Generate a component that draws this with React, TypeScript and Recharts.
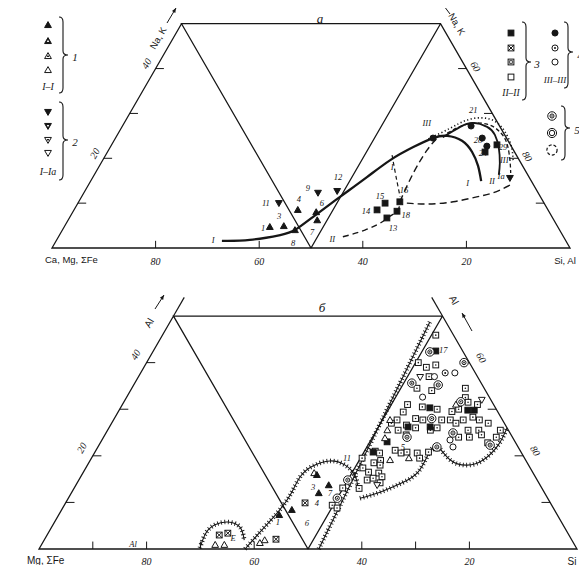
import React from 'react'
import { ScatterChart, Scatter, XAxis, YAxis, ReferenceLine } from 'recharts'

const INK = '#161616'
const SERIF = '"Liberation Serif", "DejaVu Serif", serif'
const SANS = '"Liberation Sans", "DejaVu Sans", sans-serif'
const H = Math.sqrt(3) / 2

// ternary -> plot coords. a = share of the right corner (Si,Al / Si), b = share of the top (Na,K / Al)
const pt = (a: number, b: number) => ({ x: a + b / 2, y: b * H })
const pts = (arr: number[][]) => arr.map(([a, b]) => pt(a, b))
const lbl = (arr: [string, number, number][]) => arr.map(([t, a, b]) => ({ ...pt(a, b), t }))

// ---------- diagram a : Si,Al % / Na,K % ----------
const topTriUp = [[39.7, 4.7], [42.3, 4.9], [43.2, 8.5], [47, 8], [48.1, 6.2], [44.9, 4.0]]
const topTriDown = [[38.8, 10], [45.2, 12.3], [48.7, 12.7], [80.6, 15.6]]
const topSquares = [[61.3, 6.7], [58.5, 8.5], [59.3, 10], [62, 10.3], [62.5, 8.2], [72.9, 21.4], [74.4, 23]]
const topCircles = [[67.3, 27.2], [70.8, 24.5], [72.6, 22.7], [61.3, 24.5]]

const topCurveI = [[32.0, 1.6], [37.3, 1.8], [42.6, 2.9], [44.9, 4.0], [46.9, 6.9], [49.9, 11.4], [52.9, 15.8], [55.5, 19.6], [58.5, 22.5], [61.3, 24.5], [63.8, 25.0], [67.2, 23.9], [70.4, 21.4], [73.1, 18.3], [75.4, 14.9]]
const topCurveII = [[63.1, 24.7], [65.3, 27.0], [67.3, 27.9], [70.5, 27.0], [72.9, 25.2], [75.1, 22.3], [77.0, 18.9], [78.1, 16.3]]
const topCurveIII = [[60.5, 24.3], [63.5, 26.7], [65.8, 28.5], [68.7, 29.0], [72.0, 27.9], [75.2, 25.2], [77.6, 22.3], [79.2, 19.6]]
const topCurveIa = [[63.5, 25.6], [66.3, 27.6], [70.2, 27.6], [73.5, 25.9], [76.1, 23.4], [78.6, 19.6], [80.2, 16.7]]
const topDashIIlow = [[54.9, 2.5], [58.4, 4.0], [60.8, 5.8], [61.3, 6.7], [62.5, 8.2], [62.0, 10.3]]
const topDashIIup = [[62.0, 10.3], [61.4, 16.7], [61.5, 21.8], [62.1, 24.5]]
const topDashI = [[55.3, 20.7], [58.2, 16.3], [61.5, 11.4]]
const topReturn = [[81.4, 14.0], [79.0, 12.3], [76.3, 11.4], [72.3, 10.3], [67.5, 9.8], [63.5, 10.0]]

const topLabels: [string, number, number][] = [
  ['I', 30.2, 1.8], ['1', 38.5, 4.5], ['3', 40.3, 7.1], ['11', 36.3, 10.0], ['4', 42.2, 10.9],
  ['9', 42.7, 13.4], ['6', 47.1, 10.0], ['7', 48.4, 3.6], ['8', 46.0, 1.1], ['12', 47.3, 15.8],
  ['II', 53.1, 2.0], ['13', 63.6, 4.5], ['14', 56.5, 8.2], ['15', 57.5, 11.6], ['16', 61.5, 12.9],
  ['18', 64.6, 7.4], ['I', 56.6, 18.1], ['III', 58.4, 27.9], ['21', 65.9, 30.8], ['28', 70.2, 24.1],
  ['24', 72.6, 21.2], ['29', 75.8, 22.5], ['I', 73.0, 14.5], ['II', 77.5, 14.9], ['III', 77.5, 19.6], ['Ia', 78.7, 16.0],
]

const topLeftTicks = [10, 20, 30, 40]
const topLeftLabels = [20, 40]
const topBaseTicks = [20, 40, 60, 80]
const topBaseLabels = [80, 60, 40, 20] // Ca,Mg,ΣFe %
const topRightTicks = [60, 70, 80, 90]
const topRightLabels = [60, 80]

// ---------- diagram б : Si % / Al % ----------
const botSquares = [
  [50.8, 45.9], [50.5, 40], [52.5, 39], [54, 39.5], [54, 37], [53, 34.5], [56, 34], [62, 34.5], [63, 32.5],
  [64, 31.5], [62, 29.5], [63, 30], [66, 31], [53, 31], [56, 30.5], [59, 30], [56, 28], [57.5, 27.7],
  [61, 27.7], [53, 29.4], [52.7, 27.7], [54, 25.5], [57, 26], [60, 25.5], [61, 26], [56, 24.5], [62.6, 27.7],
  [64, 27], [65, 27.7], [66.5, 28.3], [68, 27.7], [70, 27], [69, 25.5], [67, 25.5], [66, 24], [68, 24],
  [70, 24.5], [72, 22.8], [73, 24], [73, 25.5], [52, 21], [53, 20.6], [54, 19], [60, 20.6], [61, 19.5],
  [62, 20.8], [63, 21.7], [52, 27], [55, 26.6], [55.6, 21.2], [57, 20.6], [58, 20.8], [53, 18.5], [54.4, 18],
  [51.5, 17.4], [53, 16.5], [55, 16.3], [56, 15.5], [53.6, 14.8], [54.5, 15.2], [56.3, 14.2], [50.3, 19.5],
  [49.9, 13.1], [53, 13], [49.8, 9.4], [51, 8.8],
]
const botSquaresX = [[43, 2.1], [32, 3], [33.4, 3.4], [44.5, 9.9]]
const botSquaresF = [[52.5, 42.5], [64.8, 29.8], [57.5, 30.3], [55.5, 26.2], [59.6, 26.2], [53.2, 23], [51.7, 20.8], [66, 29.8]]
const botConc = [[51.5, 42.3], [59, 40], [51.5, 35.6], [56.6, 35.2], [62.6, 31.6], [56.4, 24], [64.5, 24.9], [72.7, 22.3], [63, 21.9], [50, 14.8], [50, 10.9], [59, 28]]
const botCircO = [[55, 32.6], [58.4, 37.8], [55, 37], [64.7, 23.4], [66, 21.9]]
const botCircD = [[56.6, 37.8]]
const botTriO = [[62, 31], [51.4, 27.7], [52, 25.5], [52.4, 23.8], [59, 19.5], [55.7, 19.1], [41, 1.9], [40.4, 1.3], [32.3, 0.9], [34, 0.9], [43, 16.3]]
const botTriF = [[43.7, 15.9], [47, 13.7], [46, 12], [42.8, 8.4], [41, 7.3]]
const botTriDown = [[52.4, 36.9], [66.3, 32], [56, 13.7]]

const botHatchA = [[52, 0], [48.3, 48.7]]
const botHump = [[38.3, 0], [39.4, 4.1], [40.4, 7.7], [40.9, 11.6], [40.8, 15.5], [42.0, 17.8], [44.6, 18.9], [47.9, 18.0], [50.9, 15.7], [53.0, 12.7]]
const botArch = [[29.8, 0.2], [29.3, 3.4], [30.1, 5.2], [32.2, 5.8], [35.0, 4.7], [37.2, 1.9]]
const botLow = [[54.2, 10.9], [57.3, 12.2], [60.4, 14.2], [62.2, 16.5], [62.2, 20.2], [63.1, 21.9], [66.9, 19.1], [70.6, 18.0], [73.0, 19.1], [74.2, 22.3], [74.0, 26.0]]

const botLabels: [string, number, number][] = [
  ['17', 53.8, 42.7], ['5', 56.7, 21.9], ['11', 47.5, 19.5], ['б', 47, 5.6], ['7', 48.1, 12],
  ['4', 46.7, 9.9], ['3', 44.3, 13.3], ['1', 41.5, 5.8], ['Al', 17, 1.0], ['E', 34.9, 2.4],
]

const botLeftTicks = [10, 20, 30, 40]
const botLeftLabels = [20, 40]
const botBaseTicks = [10, 20, 30, 40, 60, 70, 80]
const botBaseLabels = [80, 60, 40, 20] // Mg,ΣFe %
const botRightTicks = [60, 70, 80, 90]
const botRightLabels = [60, 80]

// frame: Euler path through both sub-triangles and the top edge
const frame = [[0, 50], [0, 0], [50, 0], [100, 0], [50, 50], [0, 50], [50, 0], [50, 50]]

// ---------- marks ----------
function Mark({ cx, cy, kind, s = 3.4 }: { cx: number; cy: number; kind: string; s?: number }) {
  const up = (k: number) => `${cx},${cy - k} ${cx - k},${cy + k * 0.75} ${cx + k},${cy + k * 0.75}`
  const dn = (k: number) => `${cx},${cy + k} ${cx - k},${cy - k * 0.75} ${cx + k},${cy - k * 0.75}`
  const o = { fill: '#fff', stroke: INK, strokeWidth: 1 }
  const f = { fill: INK, stroke: INK, strokeWidth: 1 }
  const sq = s * 0.85
  switch (kind) {
    case 'triF': return <polygon points={up(s)} {...f} />
    case 'triH': return <g><polygon points={up(s)} {...f} /><polygon points={up(s * 0.35)} fill="#fff" /></g>
    case 'triI': return <g><polygon points={up(s)} {...o} /><polygon points={up(s * 0.4)} fill={INK} /></g>
    case 'triO': return <polygon points={up(s)} {...o} />
    case 'dtriF': return <polygon points={dn(s)} {...f} />
    case 'dtriH': return <g><polygon points={dn(s)} {...f} /><polygon points={dn(s * 0.35)} fill="#fff" /></g>
    case 'dtriI': return <g><polygon points={dn(s)} {...o} /><polygon points={dn(s * 0.4)} fill={INK} /></g>
    case 'dtriO': return <polygon points={dn(s)} {...o} />
    case 'sqF': return <rect x={cx - sq} y={cy - sq} width={sq * 2} height={sq * 2} {...f} />
    case 'sqX': return <g><rect x={cx - sq} y={cy - sq} width={sq * 2} height={sq * 2} {...o} />
      <path d={`M${cx - sq},${cy - sq}L${cx + sq},${cy + sq}M${cx + sq},${cy - sq}L${cx - sq},${cy + sq}`} stroke={INK} strokeWidth={1} /></g>
    case 'sqI': return <g><rect x={cx - sq} y={cy - sq} width={sq * 2} height={sq * 2} {...o} />
      <rect x={cx - sq * 0.45} y={cy - sq * 0.45} width={sq * 0.9} height={sq * 0.9} fill="none" stroke={INK} strokeWidth={0.8} /></g>
    case 'sqO': return <rect x={cx - sq} y={cy - sq} width={sq * 2} height={sq * 2} {...o} />
    case 'sqD': return <g><rect x={cx - sq} y={cy - sq} width={sq * 2} height={sq * 2} {...o} /><circle cx={cx} cy={cy} r={0.8} fill={INK} /></g>
    case 'ciF': return <circle cx={cx} cy={cy} r={s * 0.9} {...f} />
    case 'ciD': return <g><circle cx={cx} cy={cy} r={s * 0.9} {...o} /><circle cx={cx} cy={cy} r={1} fill={INK} /></g>
    case 'ciO': return <circle cx={cx} cy={cy} r={s * 0.9} {...o} />
    case 'cc': return <g><circle cx={cx} cy={cy} r={s * 1.25} {...o} /><circle cx={cx} cy={cy} r={s * 0.6} fill="none" stroke={INK} strokeWidth={1} /><circle cx={cx} cy={cy} r={0.8} fill={INK} /></g>
    case 'c2': return <g><circle cx={cx} cy={cy} r={s * 1.35} {...o} /><circle cx={cx} cy={cy} r={s * 0.8} fill="none" stroke={INK} strokeWidth={1} /></g>
    case 'cDash': return <circle cx={cx} cy={cy} r={s * 1.5} fill="none" stroke={INK} strokeWidth={1.2} strokeDasharray="3 2" />
    default: return <g />
  }
}

const none = () => <g />
const markShape = (kind: string) => (p: any) => <Mark cx={p.cx} cy={p.cy} kind={kind} />
const textShape = (o: { dx?: number; dy?: number; rot?: number; size?: number; italic?: boolean; anchor?: string; family?: string }) =>
  (p: any) => {
    const x = p.cx + (o.dx ?? 0)
    const y = p.cy + (o.dy ?? 0)
    return (
      <text x={x} y={y} textAnchor={(o.anchor ?? 'middle') as any} dominantBaseline="central"
        fontSize={o.size ?? 9} fontStyle={o.italic === false ? 'normal' : 'italic'}
        fontFamily={o.family ?? SERIF} fill={INK}
        transform={o.rot ? `rotate(${o.rot} ${x} ${y})` : undefined}>
        {p.payload.t}
      </text>
    )
  }

function curve(data: number[][], style: any, joint: any = 'natural', key?: string) {
  return (
    <Scatter key={key} data={pts(data)} shape={none} line={{ stroke: INK, fill: 'none', ...style }}
      lineJointType={joint} isAnimationActive={false} />
  )
}
function hatched(data: number[][], joint: any, key: string) {
  return [
    curve(data, { strokeWidth: 1.1 }, joint, key + 'a'),
    curve(data, { strokeWidth: 4.6, strokeDasharray: '0.9 2.6' }, joint, key + 'b'),
  ]
}
function seg(a1: number, b1: number, a2: number, b2: number, key: string, w = 1) {
  return <ReferenceLine key={key} segment={[pt(a1, b1), pt(a2, b2)]} stroke={INK} strokeWidth={w} ifOverflow="visible" />
}
function ticks(left: number[], base: number[], right: number[], p: string) {
  return [
    ...left.map((v) => seg(0, v, 1.6, v, p + 'l' + v)),
    ...base.map((v) => seg(v, 0, v - 0.8, 1.6, p + 'b' + v)),
    ...right.map((v) => seg(v, 100 - v, v - 1.6, 100 - v, p + 'r' + v)),
  ]
}
function textSet(items: { x: number; y: number; t: string }[], opts: any, key: string) {
  return <Scatter key={key} data={items} shape={textShape(opts)} isAnimationActive={false} />
}

function Brace({ x, y1, y2, ym, w = 5 }: { x: number; y1: number; y2: number; ym: number; w?: number }) {
  const d = `M${x - 4},${y1} Q${x},${y1} ${x},${y1 + 5} L${x},${ym - 4} Q${x},${ym} ${x + w},${ym} Q${x},${ym} ${x},${ym + 4} L${x},${y2 - 5} Q${x},${y2} ${x - 4},${y2}`
  return <path d={d} fill="none" stroke={INK} strokeWidth={1.1} />
}
function Arrow({ x1, y1, x2, y2 }: { x1: number; y1: number; x2: number; y2: number }) {
  const a = Math.atan2(y2 - y1, x2 - x1)
  const h = 5
  const p1 = `${x2 - h * Math.cos(a - 0.4)},${y2 - h * Math.sin(a - 0.4)}`
  const p2 = `${x2 - h * Math.cos(a + 0.4)},${y2 - h * Math.sin(a + 0.4)}`
  return <g><line x1={x1} y1={y1} x2={x2} y2={y2} stroke={INK} strokeWidth={1} /><polygon points={`${x2},${y2} ${p1} ${p2}`} fill={INK} /></g>
}

export default function App() {
  const T = (x: number, y: number, s: string, o: any = {}) => (
    <text x={x} y={y} textAnchor={o.anchor ?? 'middle'} dominantBaseline="central" fontSize={o.size ?? 10}
      fontStyle={o.italic ? 'italic' : 'normal'} fontFamily={o.family ?? SERIF} fill={INK}
      transform={o.rot ? `rotate(${o.rot} ${x} ${y})` : undefined}>{s}</text>
  )
  const topBaseLbl = topBaseLabels.map((v) => ({ ...pt(100 - v, 0), t: String(v) }))
  const botBaseLbl = botBaseLabels.map((v) => ({ ...pt(100 - v, 0), t: String(v) }))

  return (
    <div style={{ position: 'relative', width: 587, height: 573, margin: -8, background: '#fff', overflow: 'hidden' }}>
      <div style={{ position: 'absolute', left: 0, top: 0 }}>
        <ScatterChart width={587} height={275} margin={{ top: 0, right: 0, bottom: 0, left: 0 }}>
          <XAxis type="number" dataKey="x" domain={[-10.04, 103.28]} hide allowDataOverflow />
          <YAxis type="number" dataKey="y" domain={[-5.21, 47.88]} hide allowDataOverflow />
          {curve(frame, { strokeWidth: 1.3 }, 'linear', 'frame')}
          {ticks(topLeftTicks, topBaseTicks, topRightTicks, 't')}
          {curve(topCurveI, { strokeWidth: 2.3 }, 'natural', 'cI')}
          {curve(topCurveII, { strokeWidth: 1.8 }, 'natural', 'cII')}
          {curve(topCurveIII, { strokeWidth: 1.6, strokeDasharray: '1.2 2.4' }, 'natural', 'cIII')}
          {curve(topCurveIa, { strokeWidth: 1.3, strokeDasharray: '4 2.5' }, 'natural', 'cIa')}
          {curve(topDashIIlow, { strokeWidth: 1.4, strokeDasharray: '6 4' }, 'natural', 'd1')}
          {curve(topDashIIup, { strokeWidth: 1.4, strokeDasharray: '7 4' }, 'natural', 'd2')}
          {curve(topDashI, { strokeWidth: 1.2, strokeDasharray: '4 3' }, 'natural', 'd3')}
          {curve(topReturn, { strokeWidth: 1.4, strokeDasharray: '7 4' }, 'natural', 'd4')}
          <Scatter data={pts(topTriUp)} shape={markShape('triF')} isAnimationActive={false} />
          <Scatter data={pts(topTriDown)} shape={markShape('dtriF')} isAnimationActive={false} />
          <Scatter data={pts(topSquares)} shape={markShape('sqF')} isAnimationActive={false} />
          <Scatter data={pts(topCircles)} shape={markShape('ciF')} isAnimationActive={false} />
          {textSet(lbl(topLabels), { size: 8.5 }, 'tl')}
          {textSet(topLeftLabels.map((v) => ({ ...pt(0, v), t: String(v) })), { dx: -9, dy: -5, rot: -60, size: 10 }, 'tll')}
          {textSet(topRightLabels.map((v) => ({ ...pt(v, 100 - v), t: String(v) })), { dx: 9, dy: -2, rot: 60, size: 10 }, 'trl')}
          {textSet(topBaseLbl, { dy: 13, size: 10 }, 'tbl')}
          {textSet([{ ...pt(0, 0), t: 'Ca, Mg, ΣFe' }], { dx: -7, dy: 11, size: 9.5, italic: false, anchor: 'start', family: SANS }, 'tn1')}
          {textSet([{ ...pt(100, 0), t: 'Si, Al' }], { dx: -5, dy: 12, size: 9.5, italic: false, family: SANS }, 'tn2')}
        </ScatterChart>
      </div>

      <div style={{ position: 'absolute', left: 0, top: 275 }}>
        <ScatterChart width={587} height={298} margin={{ top: 0, right: 0, bottom: 0, left: 0 }}>
          <XAxis type="number" dataKey="x" domain={[-7.25, 101.86]} hide allowDataOverflow />
          <YAxis type="number" dataKey="y" domain={[-4.46, 50.93]} hide allowDataOverflow />
          {curve(frame, { strokeWidth: 1.3 }, 'linear', 'frame')}
          {seg(0, 50, 0, 54, 'ext1', 1.2)}
          {seg(50, 50, 46, 54, 'ext2', 1.2)}
          {ticks(botLeftTicks, botBaseTicks, botRightTicks, 'b')}
          {hatched(botHatchA, 'linear', 'hA')}
          {hatched(botHump, 'natural', 'hB')}
          {hatched(botArch, 'natural', 'hC')}
          {hatched(botLow, 'natural', 'hD')}
          <Scatter data={pts(botSquares)} shape={markShape('sqD')} isAnimationActive={false} />
          <Scatter data={pts(botSquaresX)} shape={markShape('sqX')} isAnimationActive={false} />
          <Scatter data={pts(botSquaresF)} shape={markShape('sqF')} isAnimationActive={false} />
          <Scatter data={pts(botConc)} shape={markShape('cc')} isAnimationActive={false} />
          <Scatter data={pts(botCircO)} shape={markShape('ciO')} isAnimationActive={false} />
          <Scatter data={pts(botCircD)} shape={markShape('ciD')} isAnimationActive={false} />
          <Scatter data={pts(botTriO)} shape={markShape('triO')} isAnimationActive={false} />
          <Scatter data={pts(botTriF)} shape={markShape('triF')} isAnimationActive={false} />
          <Scatter data={pts(botTriDown)} shape={markShape('dtriO')} isAnimationActive={false} />
          {textSet(lbl(botLabels), { size: 8.5 }, 'bl')}
          {textSet(botLeftLabels.map((v) => ({ ...pt(0, v), t: String(v) })), { dx: -11, dy: -8, rot: -60, size: 10 }, 'bll')}
          {textSet(botRightLabels.map((v) => ({ ...pt(v, 100 - v), t: String(v) })), { dx: 12, dy: -5, rot: 60, size: 10 }, 'brl')}
          {textSet(botBaseLbl, { dy: 12, size: 10 }, 'bbl')}
          {textSet([{ ...pt(0, 0), t: 'Mg, ΣFe' }], { dx: -12, dy: 11, size: 10, italic: false, anchor: 'start', family: SANS }, 'bn1')}
          {textSet([{ ...pt(100, 0), t: 'Si' }], { dx: -5, dy: 12, size: 10, italic: false, family: SANS }, 'bn2')}
        </ScatterChart>
      </div>

      <svg width={587} height={573} style={{ position: 'absolute', left: 0, top: 0, pointerEvents: 'none' }}>
        <line x1={6} y1={4} x2={587} y2={4} stroke="#c8c8c8" strokeWidth={2} />
        <line x1={6} y1={4} x2={6} y2={573} stroke="#c8c8c8" strokeWidth={2} />

        {/* legend 1, 2 */}
        <Mark cx={48} cy={25} kind="triF" />
        <Mark cx={48} cy={41} kind="triH" />
        <Mark cx={48} cy={56} kind="triI" />
        <Mark cx={48} cy={70} kind="triO" />
        {T(48, 86, 'I–I', { italic: true, size: 10 })}
        <Brace x={63} y1={17} y2={93} ym={55} />
        {T(75, 57, '1', { italic: true, size: 11 })}
        <Mark cx={48} cy={112} kind="dtriF" />
        <Mark cx={48} cy={126} kind="dtriH" />
        <Mark cx={48} cy={140} kind="dtriI" />
        <Mark cx={48} cy={153} kind="dtriO" />
        {T(48, 171, 'I–Ia', { italic: true, size: 10 })}
        <Brace x={63} y1={102} y2={180} ym={140} />
        {T(75, 142, '2', { italic: true, size: 11 })}

        {/* legend 3, 4, 5 */}
        <Mark cx={511} cy={33} kind="sqF" />
        <Mark cx={511} cy={48} kind="sqX" />
        <Mark cx={511} cy={62} kind="sqI" />
        <Mark cx={511} cy={77} kind="sqO" />
        {T(511, 93, 'II–II', { italic: true, size: 9.5 })}
        <Brace x={526} y1={22} y2={100} ym={62} />
        {T(537, 64, '3', { italic: true, size: 11 })}
        <Mark cx={555} cy={33} kind="ciF" />
        <Mark cx={555} cy={48} kind="ciD" />
        <Mark cx={555} cy={62} kind="ciO" />
        {T(555, 80, 'III–III', { italic: true, size: 9 })}
        <Brace x={568} y1={22} y2={88} ym={52} />
        {T(580, 55, '4', { italic: true, size: 11 })}
        <Mark cx={552} cy={116} kind="cc" />
        <Mark cx={552} cy={133} kind="c2" />
        <Mark cx={552} cy={150} kind="cDash" />
        <Brace x={565} y1={106} y2={160} ym={128} />
        {T(577, 130, '5', { italic: true, size: 11 })}

        {/* axis names */}
        {T(158, 38, 'Na, K', { rot: -60, size: 9.5, family: SANS })}
        <Arrow x1={167} y1={23} x2={176} y2={8} />
        {T(457, 24, 'Na, K', { rot: 60, size: 9.5, family: SANS })}
        <Arrow x1={450} y1={14} x2={441} y2={2} />
        {T(320, 18, 'a', { italic: true, size: 13 })}

        {T(149, 323, 'Al', { rot: -60, size: 10, family: SANS })}
        <Arrow x1={155} y1={309} x2={164} y2={295} />
        {T(454, 300, 'Al', { rot: 60, size: 10, family: SANS })}
        <Arrow x1={472} y1={331} x2={462} y2={313} />
        {T(322, 307, 'б', { italic: true, size: 13 })}
      </svg>
    </div>
  )
}
